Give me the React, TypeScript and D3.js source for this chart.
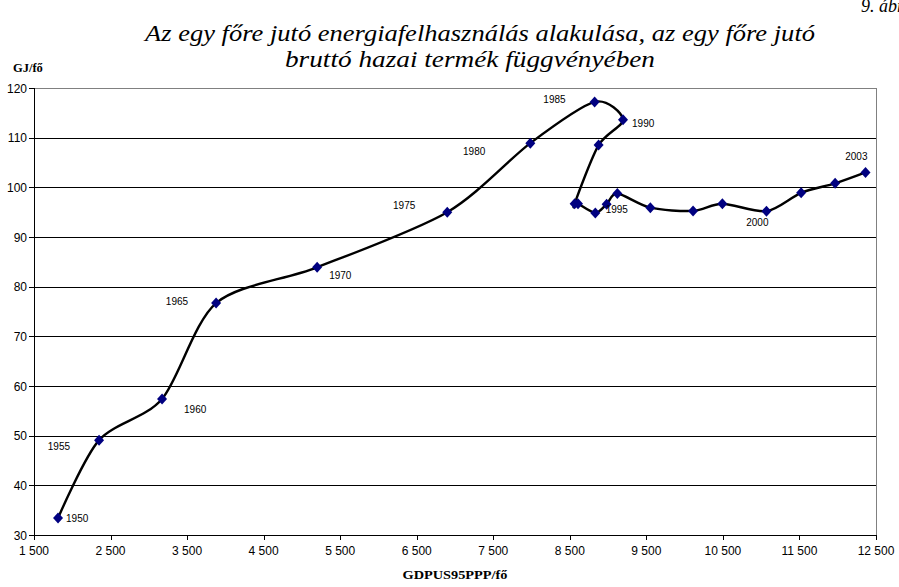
import * as React from 'react';
import * as d3 from 'd3';

// years of the observations
const years: number[] = [
  1950, 1955, 1960, 1965, 1970, 1975, 1980, 1985,
  1990, 1991, 1992, 1993, 1994, 1995, 1996, 1997, 1998, 1999, 2000, 2001, 2002, 2003,
];
// GDP (US95 PPP per capita)
const gdp: number[] = [
  1814, 2350, 3173, 3879, 5199, 6899, 7984, 8824,
  9195, 8876, 8563, 8607, 8833, 8981, 9121, 9552, 10110, 10493, 11069, 11522, 11966, 12363,
];
// energy use, GJ per capita
const energy: number[] = [
  33.4, 49.1, 57.4, 76.7, 83.9, 95.0, 108.9, 117.2,
  113.6, 108.5, 96.7, 96.7, 94.85, 96.6, 98.75, 95.9, 95.25, 96.7, 95.2, 98.9, 100.8, 103.0,
];
const labelledYears: number[] = [1950, 1955, 1960, 1965, 1970, 1975, 1980, 1985, 1990, 1995, 2000, 2003];
const xTicks: number[] = [1500, 2500, 3500, 4500, 5500, 6500, 7500, 8500, 9500, 10500, 11500, 12500];
const yTicks: number[] = [30, 40, 50, 60, 70, 80, 90, 100, 110, 120];

// label placement relative to the point: [dx, dy, anchor]
const labelPlace: Record<number, [number, number, string]> = {
  1950: [8, 4, 'start'],
  1955: [-29, 10, 'end'],
  1960: [22, 14, 'start'],
  1965: [-28, 2, 'end'],
  1970: [12, 12, 'start'],
  1975: [-32, -3, 'end'],
  1980: [-45, 12, 'end'],
  1985: [-29, 1, 'end'],
  1990: [9, 7, 'start'],
  1995: [-1, 9, 'start'],
  2000: [2, 15, 'end'],
  2003: [2, -12, 'end'],
};

const W = 899, H = 587;
const left = 34, right = 876, top = 88, bottom = 535;
const serif = "'Liberation Serif', 'Times New Roman', serif";
const sans = "'Liberation Sans', Arial, sans-serif";

// Excel-like diamond marker, about 10px wide
const excelDiamond = {
  draw(ctx: d3.Path, size: number) {
    const r = Math.sqrt(size) / 2;
    ctx.moveTo(0, -r * 1.1);
    ctx.lineTo(r, 0);
    ctx.lineTo(0, r * 1.1);
    ctx.lineTo(-r, 0);
    ctx.closePath();
  },
};

export default function App() {
  const x = d3.scaleLinear().domain([1500, 12500]).range([left, right]);
  const y = d3.scaleLinear().domain([30, 120]).range([bottom, top]);

  const pts: [number, number][] = gdp.map((g, i) => [x(g), y(energy[i])]);
  const line = d3.line().curve(d3.curveCardinal.tension(0.15))(pts) || '';
  const diamond = d3.symbol().type(excelDiamond as any).size(100)() || '';
  const fmt = (v: number) => d3.format(',')(v).replace(/,/g, ' ');

  return (
    <svg width={W} height={H} style={{ position: 'absolute', left: 0, top: 0, background: '#fff' }}>
      <text x={861} y={12} fontFamily={serif} fontStyle="italic" fontSize={18}>9. ábra</text>
      <text x={480} y={41} textAnchor="middle" fontFamily={serif} fontStyle="italic" fontSize={23}
        textLength={670} lengthAdjust="spacingAndGlyphs">
        Az egy főre jutó energiafelhasználás alakulása, az egy főre jutó
      </text>
      <text x={470} y={67} textAnchor="middle" fontFamily={serif} fontStyle="italic" fontSize={23}
        textLength={370} lengthAdjust="spacingAndGlyphs">
        bruttó hazai termék függvényében
      </text>
      <text x={13} y={72} fontFamily={serif} fontWeight="bold" fontSize={12.5}>GJ/fő</text>
      <text x={455} y={579} textAnchor="middle" fontFamily={serif} fontWeight="bold" fontSize={13.5}
        textLength={105} lengthAdjust="spacingAndGlyphs">GDPUS95PPP/fő</text>

      {/* grid */}
      {yTicks.filter(t => t > 30 && t < 120).map(t => (
        <line key={t} x1={left} x2={right} y1={Math.round(y(t)) + 0.5} y2={Math.round(y(t)) + 0.5} stroke="#000" strokeWidth={1} />
      ))}
      <rect x={left + 0.5} y={top + 0.5} width={right - left} height={bottom - top} fill="none" stroke="#808080" />
      <line x1={left + 0.5} x2={left + 0.5} y1={top} y2={bottom + 1} stroke="#000" />
      <line x1={left} x2={right + 1} y1={bottom + 0.5} y2={bottom + 0.5} stroke="#000" />

      {/* y ticks */}
      {yTicks.map(t => (
        <g key={t}>
          <line x1={left - 5} x2={left} y1={Math.round(y(t)) + 0.5} y2={Math.round(y(t)) + 0.5} stroke="#000" />
          <text x={left - 7} y={y(t) + 4.5} textAnchor="end" fontFamily={sans} fontSize={12}>{t}</text>
        </g>
      ))}
      {/* x ticks */}
      {xTicks.map(t => (
        <g key={t}>
          <line x1={Math.round(x(t)) + 0.5} x2={Math.round(x(t)) + 0.5} y1={bottom} y2={bottom + 5} stroke="#000" />
          <text x={x(t)} y={bottom + 20} textAnchor="middle" fontFamily={sans} fontSize={12}>{fmt(t)}</text>
        </g>
      ))}

      <path d={line} fill="none" stroke="#000" strokeWidth={2.4} />
      {pts.map((p, i) => (
        <path key={i} d={diamond} transform={`translate(${p[0]},${p[1]})`} fill="#000080" />
      ))}
      {labelledYears.map(yr => {
        const i = years.indexOf(yr);
        const [dx, dy, anchor] = labelPlace[yr];
        return (
          <text key={yr} x={pts[i][0] + dx} y={pts[i][1] + dy} textAnchor={anchor}
            fontFamily={sans} fontSize={10}>{yr}</text>
        );
      })}
    </svg>
  );
}
